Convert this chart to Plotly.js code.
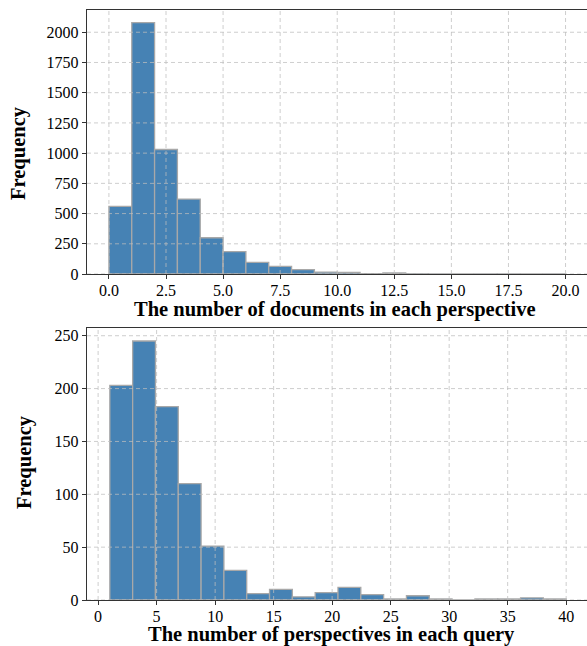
<!DOCTYPE html>
<html>
<head>
<meta charset="utf-8">
<script src="https://cdn.plot.ly/plotly-3.0.1.min.js"></script>
<style>html,body{margin:0;padding:0;overflow:hidden;background:#fff}</style>
</head>
<body>
<div id="chart" style="width:587px;height:646px"></div>
<script>
// Top histogram: documents per perspective (bins of width 1 from 0 to 20)
const docStart = 0;
const docBinWidth = 1;
const docCounts = [560, 2080, 1030, 620, 300, 185, 97, 64, 36, 15, 14, 3, 9, 2, 1, 0, 1, 1, 0, 1];
const docXTicks = [0, 2.5, 5, 7.5, 10, 12.5, 15, 17.5, 20];
const docXTickText = ["0.0", "2.5", "5.0", "7.5", "10.0", "12.5", "15.0", "17.5", "20.0"];
const docYTicks = [0, 250, 500, 750, 1000, 1250, 1500, 1750, 2000];

// Bottom histogram: perspectives per query (20 bins from 1 to 40)
const perStart = 1;
const perBinWidth = 1.95;
const perCounts = [203, 245, 183, 110, 51, 28, 6, 10, 3, 7, 12, 5, 1, 4, 1, 0, 1, 1, 2, 1];
const perXTicks = [0, 5, 10, 15, 20, 25, 30, 35, 40];
const perYTicks = [0, 50, 100, 150, 200, 250];

const xTitleTop = "The number of documents in each perspective";
const xTitleBottom = "The number of perspectives in each query";
const yTitle = "Frequency";

function centers(start, w, n) { return Array.from({length: n}, (_, i) => start + w * (i + 0.5)); }

const barColor = "#4682b4";
const edge = {color: "#a8a8a8", width: 1.3};

const traces = [
  {type: "bar", x: centers(docStart, docBinWidth, docCounts.length), y: docCounts, width: docBinWidth,
   marker: {color: barColor, line: edge}, xaxis: "x", yaxis: "y", hoverinfo: "skip"},
  {type: "bar", x: centers(perStart, perBinWidth, perCounts.length), y: perCounts, width: perBinWidth,
   marker: {color: barColor, line: edge}, xaxis: "x2", yaxis: "y2", hoverinfo: "skip"}
];

const serif = "Liberation Serif, Times New Roman, serif";
const tickFont = {family: serif, size: 16, color: "#000"};
const xTitleFont = {family: serif, size: 20.5, color: "#000", weight: "bold"};
const yTitleFont = {family: serif, size: 20.5, color: "#000", weight: "bold"};

const gridShapes = [];
function addGrid(xref, yref, xt, yt) {
  const gl = {color: "rgba(190,190,190,0.75)", width: 1, dash: "4px,3px"};
  xt.forEach(v => gridShapes.push({type: "line", xref: xref, yref: yref + " domain", x0: v, x1: v, y0: 0, y1: 1, line: gl, layer: "above"}));
  yt.forEach(v => gridShapes.push({type: "line", xref: xref + " domain", yref: yref, x0: 0, x1: 1, y0: v, y1: v, line: gl, layer: "above"}));
}
addGrid("x", "y", docXTicks, docYTicks);
addGrid("x2", "y2", perXTicks, perYTicks);

const axBase = {showgrid: false, zeroline: false, showline: true, linecolor: "#333", linewidth: 1.2,
  ticks: "outside", ticklen: 4, tickcolor: "#333", tickfont: tickFont, layer: "above traces"};

const annotations = [
  {text: xTitleTop, font: xTitleFont, xref: "paper", yref: "y domain", x: 0.495, y: 0,
   xanchor: "center", yanchor: "top", yshift: -22, showarrow: false},
  {text: xTitleBottom, font: xTitleFont, xref: "paper", yref: "y2 domain", x: 0.489, y: 0,
   xanchor: "center", yanchor: "top", yshift: -21, showarrow: false},
  {text: yTitle, font: yTitleFont, xref: "paper", yref: "paper", x: -0.138, y: 0.7576, textangle: -90,
   xanchor: "center", yanchor: "middle", showarrow: false},
  {text: yTitle, font: yTitleFont, xref: "paper", yref: "paper", x: -0.124, y: 0.2339, textangle: -90,
   xanchor: "center", yanchor: "middle", showarrow: false}
];

const layout = {
  width: 587, height: 646,
  margin: {l: 87, r: 0, t: 10, b: 46},
  paper_bgcolor: "#fff", plot_bgcolor: "#fff",
  showlegend: false, bargap: 0,
  xaxis: Object.assign({}, axBase, {domain: [0, 1], anchor: "y", range: [-0.96, 20.94], mirror: true,
    tickmode: "array", tickvals: docXTicks, ticktext: docXTickText, ticklabelstandoff: -2}),
  yaxis: Object.assign({}, axBase, {domain: [0.5525, 1], anchor: "x", range: [0, 2184],
    tickmode: "array", tickvals: docYTicks}),
  xaxis2: Object.assign({}, axBase, {domain: [0, 1], anchor: "y2", range: [-0.95, 41.78], mirror: true,
    tickmode: "array", tickvals: perXTicks, ticklabelstandoff: -2}),
  yaxis2: Object.assign({}, axBase, {domain: [0, 0.461], anchor: "x2", range: [0, 257.3],
    tickmode: "array", tickvals: perYTicks}),
  shapes: gridShapes,
  annotations: annotations
};

Plotly.newPlot("chart", traces, layout, {displayModeBar: false, staticPlot: true});
</script>
</body>
</html>
